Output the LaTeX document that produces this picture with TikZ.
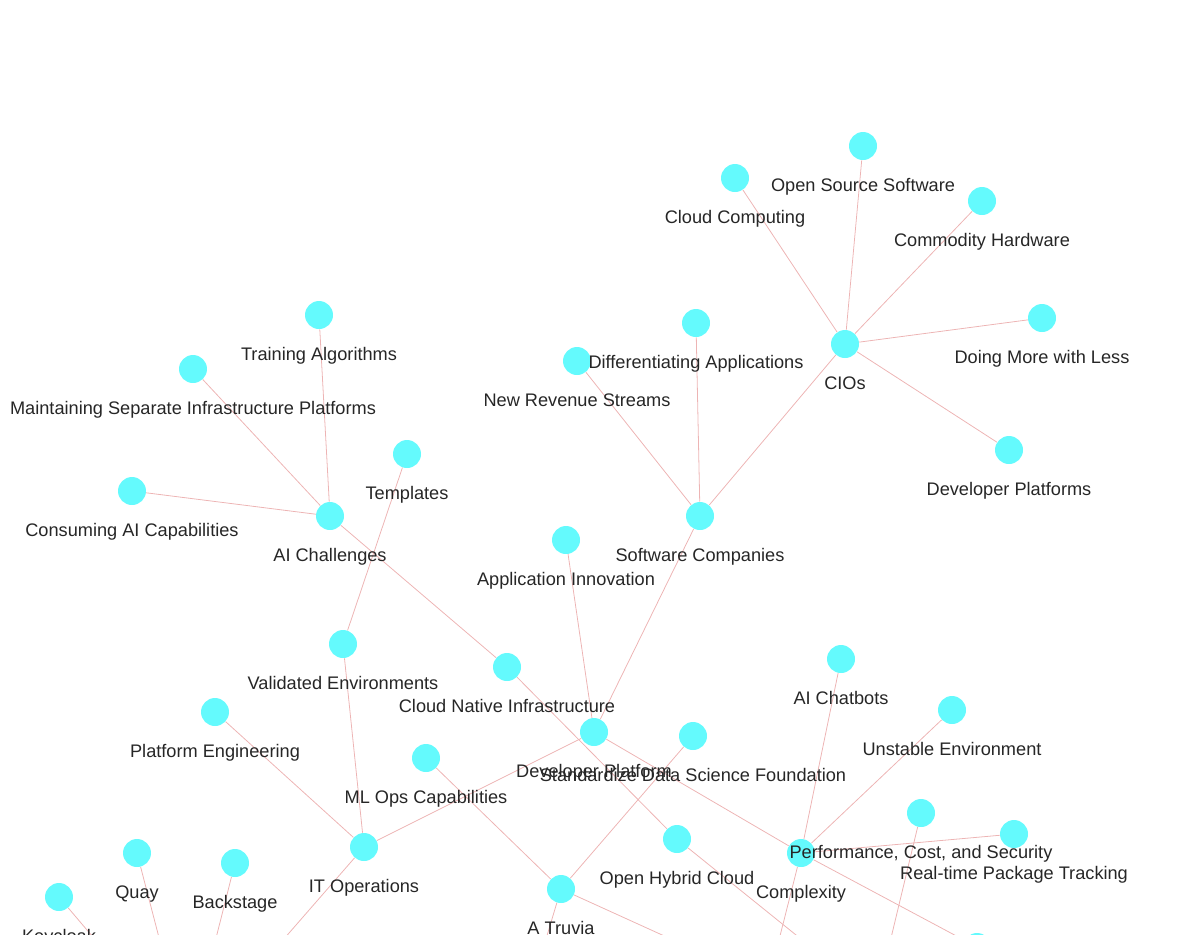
\documentclass[tikz,border=0pt]{standalone}
\usepackage{fontspec}
\setmainfont{Liberation Sans}
\usetikzlibrary{backgrounds}
\definecolor{nd-fill}{HTML}{64FAFD}
\definecolor{nd-text}{HTML}{262626}
\definecolor{nd-edge}{HTML}{EDB4B4}

\begin{document}
\begin{tikzpicture}[
    x=0.02cm, y=-0.02cm,
    label distance=0.624cm,
    dot/.style={circle, fill=nd-fill, minimum size=0.56cm, inner sep=0pt},
    lbl/.style={anchor=base, inner sep=0pt, text=nd-text,
                font=\fontsize{10.35pt}{12pt}\selectfont},
    link/.style={draw=nd-edge, line width=0.45pt}
]
\useasboundingbox (0,0) rectangle (1200,934);
\clip (0,0) rectangle (1200,934);

% =========================================================================
% CIOs
% =========================================================================
\node[dot, label={[lbl]below:Open Source Software}] (oss) at (863,146) {};
\node[dot, label={[lbl]below:Cloud Computing}] (cloud) at (735,178) {};
\node[dot, label={[lbl]below:Commodity Hardware}] (hardware) at (982,201) {};
\node[dot, label={[lbl]below:Doing More with Less}] (less) at (1042,318) {};
\node[dot, label={[lbl]below:CIOs}] (cios) at (845,344) {};
\node[dot, label={[lbl]below:Developer Platforms}] (devplats) at (1009,450) {};

% =========================================================================
% SOFTWARE COMPANIES
% =========================================================================
\node[dot, label={[lbl]below:New Revenue Streams}] (revenue) at (577,361) {};
\node[dot, label={[lbl]below:Differentiating Applications}] (diffapps) at (696,323) {};
\node[dot, label={[lbl]below:Software Companies}] (swco) at (700,516) {};
\node[dot, label={[lbl]below:Application Innovation}] (appinno) at (566,540) {};

% =========================================================================
% AI CHALLENGES
% =========================================================================
\node[dot, label={[lbl]below:Training Algorithms}] (training) at (319,315) {};
\node[dot, label={[lbl]below:Maintaining Separate Infrastructure Platforms}] (separate) at (193,369) {};
\node[dot, label={[lbl]below:Templates}] (templates) at (407,454) {};
\node[dot, label={[lbl]below:Consuming AI Capabilities}] (consuming) at (132,491) {};
\node[dot, label={[lbl]below:AI Challenges}] (aichal) at (330,516) {};

% =========================================================================
% PLATAFORMA
% =========================================================================
\node[dot, label={[lbl]below:Validated Environments}] (validated) at (343,644) {};
\node[dot, label={[lbl]below:Cloud Native Infrastructure}] (cni) at (507,667) {};
\node[dot, label={[lbl]below:AI Chatbots}] (chatbots) at (841,659) {};
\node[dot, label={[lbl]below:Platform Engineering}] (plateng) at (215,712) {};
\node[dot, label={[lbl]below:Unstable Environment}] (unstable) at (952,710) {};
\node[dot, label={[lbl]below:Developer Platform}] (devplat) at (594,732) {};
\node[dot, label={[lbl]below:Standardize Data Science Foundation}] (datasci) at (693,736) {};
\node[dot, label={[lbl]below:ML Ops Capabilities}] (mlops) at (426,758) {};

% =========================================================================
% PARTE DE BAIXO
% =========================================================================
\node[dot, label={[lbl]below:Complexity}] (complexity) at (801,853) {};
\node[dot, label={[lbl]below:{Performance, Cost, and Security}}] (perf) at (921,813) {};
\node[dot, label={[lbl]below:Real-time Package Tracking}] (realtime) at (1014,834) {};
\node[dot, label={[lbl]below:IT Operations}] (itops) at (364,847) {};
\node[dot, label={[lbl]below:Open Hybrid Cloud}] (hybrid) at (677,839) {};
\node[dot, label={[lbl]below:A Truvia}] (truvia) at (561,889) {};
\node[dot, label={[lbl]below:Quay}] (quay) at (137,853) {};
\node[dot, label={[lbl]below:Backstage}] (backstage) at (235,863) {};
\node[dot, label={[lbl]below:Keycloak}] (keycloak) at (59,897) {};
\node[dot] (lowright) at (977,947) {};

% pontas fora da figura
\coordinate (hub) at (188,1049);
\coordinate (truviaS) at (516,1039);
\coordinate (truviaE) at (737,969);
\coordinate (hybridS) at (863,989);
\coordinate (complexS) at (763,1003);
\coordinate (perfS) at (873,1013);

% =========================================================================
% ARESTAS
% =========================================================================
\begin{scope}[on background layer]
\clip (0,0) rectangle (1200,934);
\foreach \a/\b in {cios/oss, cios/cloud, cios/hardware, cios/less, cios/devplats,
    cios/swco, swco/revenue, swco/diffapps, swco/devplat, appinno/devplat,
    aichal/training, aichal/separate, aichal/consuming, aichal/cni,
    templates/validated, validated/itops, plateng/itops, devplat/itops,
    cni/hybrid, mlops/truvia, datasci/truvia, devplat/complexity,
    chatbots/complexity, unstable/complexity, realtime/complexity,
    complexity/lowright, complexity/complexS, perf/perfS, hybrid/hybridS,
    truvia/truviaS, truvia/truviaE, itops/hub, quay/hub, backstage/hub,
    keycloak/hub}
    \draw[link] (\a) -- (\b);
\end{scope}

\end{tikzpicture}
\end{document}
